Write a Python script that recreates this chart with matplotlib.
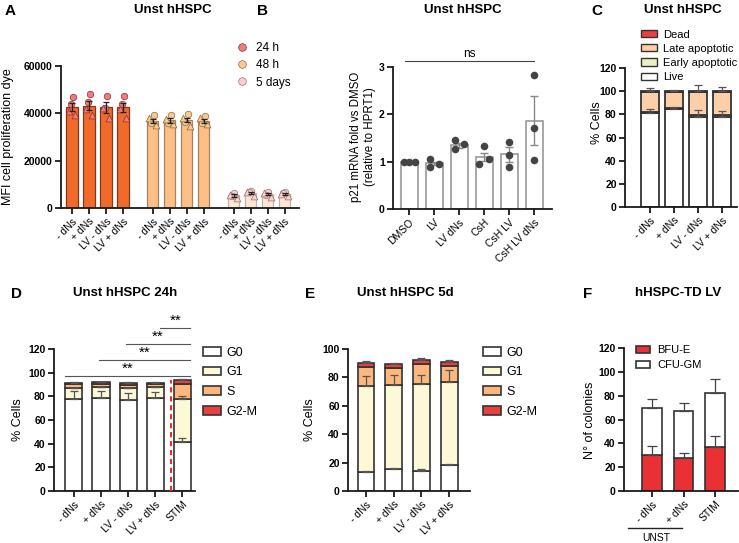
import numpy as np
import matplotlib
matplotlib.use("Agg")
import matplotlib.pyplot as plt
from matplotlib.patches import Patch
from matplotlib.lines import Line2D

plt.rcParams['font.family'] = ['Liberation Sans', 'DejaVu Sans']

# ---------------- DATA ----------------
# Panel A
a_conds = ['- dNs', '+ dNs', 'LV - dNs', 'LV + dNs']
a_times = ['24 h', '48 h', '5 days']
a_mean_24h = [42700, 43300, 42500, 42500]
a_sem_24h = [1700, 2000, 2300, 2000]
a_circ_24h = [[47100, 44000], [48300, 44800], [47300, 42300], [47300, 44000]]
a_tri_24h = [[41000, 39300], [42000, 39500], [42300, 38000], [41800, 38000]]
a_mean_48h = [36800, 37000, 37200, 36900]
a_sem_48h = [900, 900, 1000, 800]
a_circ_48h = [[39300, 36000], [39300, 36000], [39600, 36300], [39000, 36000]]
a_tri_48h = [[38000, 35000], [37800, 35300], [38000, 34800], [38200, 35300]]
a_mean_5d = [5300, 6400, 5800, 6000]
a_sem_5d = [450, 500, 450, 400]
a_circ_5d = [[6400, 5200], [7300, 6600], [6800, 5600], [6900, 6200]]
a_tri_5d = [[5600, 4300], [6900, 5000], [6200, 4700], [6000, 4900]]

# Panel B
b_conds = ['DMSO', 'LV', 'LV dNs', 'CsH', 'CsH LV', 'CsH LV dNs']
b_mean = [1.0, 0.96, 1.34, 1.10, 1.15, 1.86]
b_sem = [0.0, 0.04, 0.055, 0.09, 0.15, 0.52]
b_points = [[1.0, 1.0, 1.0], [1.05, 0.88, 0.95], [1.45, 1.26, 1.36],
            [1.32, 0.95, 1.06], [1.42, 1.14, 0.88], [2.83, 1.71, 1.03]]

# Panel C
c_conds = ['- dNs', '+ dNs', 'LV - dNs', 'LV + dNs']
c_live = [81.0, 84.5, 78.0, 78.0]
c_early = [1.2, 1.0, 1.3, 1.3]
c_late = [17.0, 14.0, 20.0, 20.0]
c_dead = [0.8, 0.5, 0.7, 0.7]
c_live_err = [3.8, 1.5, 5.5, 4.5]
c_top_err = [2.5, 0.7, 5.2, 3.2]

# Panel D
d_conds = ['- dNs', '+ dNs', 'LV - dNs', 'LV + dNs', 'STIM']
d_g0 = [77.5, 79.0, 76.6, 78.3, 41.7]
d_g1 = [9.3, 9.0, 10.2, 9.3, 36.0]
d_s = [3.3, 2.8, 3.2, 2.6, 12.7]
d_g2m = [1.4, 1.2, 1.5, 1.3, 3.4]
d_g0_err = [7.0, 5.5, 6.2, 5.4, 2.8]
d_g1_err = [0.0, 0.0, 0.0, 0.0, 2.6]
d_top_err = [0.5, 0.5, 0.5, 0.5, 0.8]
d_sig_labels = ['**', '**', '**', '**']

# Panel E
e_conds = ['- dNs', '+ dNs', 'LV - dNs', 'LV + dNs']
e_g0 = [13.4, 15.5, 14.0, 18.0]
e_g1 = [60.6, 58.9, 61.6, 59.0]
e_s = [13.6, 12.5, 13.6, 11.0]
e_g2m = [2.8, 2.3, 2.8, 2.8]
e_g0_err = [1.0, 1.0, 1.3, 0.8]
e_g1_err = [7.0, 7.6, 6.4, 8.0]
e_top_err = [1.1, 0.8, 1.4, 1.4]

# Panel F
f_conds = ['- dNs', '+ dNs', 'STIM']
f_bfu = [30.0, 27.5, 36.8]
f_cfu = [39.8, 39.7, 45.8]
f_bfu_err = [8.0, 4.8, 9.0]
f_tot_err = [7.2, 6.3, 11.2]

# ---------------- FIGURE ----------------
W, H = 739, 543
fig = plt.figure(figsize=(W / 100, H / 100), dpi=100)


def ax_px(l, t, r, b):
    return fig.add_axes([l / W, 1 - b / H, (r - l) / W, (b - t) / H])


def fy(y):
    return 1 - y / H


def style(ax, yticks, xpos, xlabels, fs=7.5):
    for s in ['top', 'right']:
        ax.spines[s].set_visible(False)
    for s in ['left', 'bottom']:
        ax.spines[s].set_linewidth(1.3)
        ax.spines[s].set_color('#1a1a1a')
    ax.tick_params(direction='out', length=4, width=1.3, color='#1a1a1a', pad=2)
    ax.set_yticks(yticks, labels=[str(t) for t in yticks], fontweight='bold', fontsize=7.5)
    ax.set_xticks(xpos, labels=xlabels, rotation=45, ha='right',
                  rotation_mode='anchor', fontsize=fs)


def ftext(x, y, s, **kw):
    kw.setdefault('ha', 'center')
    kw.setdefault('va', 'center')
    fig.text(x / W, fy(y), s, **kw)


# Panel labels and titles
for lab, x, y in [('A', 10, 11), ('B', 262, 11), ('C', 597, 11),
                  ('D', 17, 294), ('E', 310, 294), ('F', 588, 294)]:
    ftext(x, y, lab, fontsize=11, fontweight='bold')
for tit, x, y in [('Unst hHSPC', 173, 10), ('Unst hHSPC', 463, 10), ('Unst hHSPC', 683, 10),
                  ('Unst hHSPC 24h', 125, 293), ('Unst hHSPC 5d', 405, 293),
                  ('hHSPC-TD LV', 678, 293)]:
    ftext(x, y, tit, fontsize=9.5, fontweight='bold')

# ---------- Panel A ----------
axA = ax_px(61, 66, 299, 208)
bar_cols = ['#F26A2A', '#FDBF85', '#FDE6D4']
edge_cols = ['#7d3a1c', '#a08468', '#c4b0a4']
pt_cols = ['#EF7B7B', '#FCC890', '#F9CFCF']
pt_edges = ['#8a3030', '#8a6a40', '#9a7070']
means = [a_mean_24h, a_mean_48h, a_mean_5d]
sems = [a_sem_24h, a_sem_48h, a_sem_5d]
circs = [a_circ_24h, a_circ_48h, a_circ_5d]
tris = [a_tri_24h, a_tri_48h, a_tri_5d]
all_pos, all_lab = [], []
for g in range(3):
    pos = np.arange(4) + g * 4.75
    all_pos += list(pos)
    all_lab += a_conds
    axA.bar(pos, means[g], width=0.66, color=bar_cols[g], edgecolor=edge_cols[g],
            linewidth=0.9, zorder=2)
    for i, p in enumerate(pos):
        axA.scatter([p + 0.05, p - 0.08], circs[g][i], s=22, marker='o', color=pt_cols[g],
                    edgecolor=pt_edges[g], linewidth=0.5, zorder=3)
        axA.scatter([p - 0.2, p + 0.2], tris[g][i], s=24, marker='^', color=pt_cols[g],
                    edgecolor=pt_edges[g], linewidth=0.5, zorder=3)
    axA.errorbar(pos, means[g], yerr=sems[g], fmt='none', ecolor='#222', elinewidth=0.9,
                 capsize=2.5, capthick=0.9, zorder=4)
axA.set_xlim(-0.65, 13.35)
axA.set_ylim(0, 60000)
style(axA, [0, 20000, 40000, 60000], all_pos, all_lab)
ftext(8, 137, 'MFI cell proliferation dye', rotation=90, fontsize=9)
handles = [Line2D([], [], marker='o', ls='none', markersize=5.5, markerfacecolor=pt_cols[g],
                  markeredgecolor=pt_edges[g], markeredgewidth=0.5) for g in range(3)]
fig.legend(handles, a_times, loc='upper left', bbox_to_anchor=(236 / W, fy(42)),
           frameon=False, fontsize=8.5, handletextpad=0.7, labelspacing=0.45,
           borderpad=0, borderaxespad=0, handlelength=1.0)

# ---------- Panel B ----------
axB = ax_px(393, 66.7, 552, 209)
bpos = np.arange(6)
axB.bar(bpos, b_mean, width=0.68, color='white', edgecolor='#9a9a9a', linewidth=1.2, zorder=2)
axB.errorbar(bpos, b_mean, yerr=b_sem, fmt='none', ecolor='#888', elinewidth=1,
             capsize=3, capthick=1, zorder=3)
b_offsets = [[-0.22, 0, 0.22], [-0.15, -0.15, 0.2], [-0.15, -0.15, 0.2],
             [0, -0.2, 0.2], [0, 0, 0], [0, 0, 0]]
for i in range(6):
    axB.scatter(bpos[i] + np.array(b_offsets[i]), b_points[i], s=30, color='#444444',
                zorder=4, linewidth=0)
axB.set_xlim(-0.64, 5.72)
axB.set_ylim(0, 3)
style(axB, [0, 1, 2, 3], bpos, b_conds)
axB.plot([-0.15, 5.0], [3.12, 3.12], color='#444', lw=0.8, clip_on=False)
axB.text(2.42, 3.27, 'ns', ha='center', va='center', fontsize=8.5, clip_on=False)
ftext(363, 137, 'p21 mRNA fold vs DMSO\n(relative to HPRT1)', rotation=90, fontsize=8.3,
      linespacing=1.15)

# ---------- Panel C ----------
axC = ax_px(625, 68, 737, 207)
cpos = np.arange(4)
c_cols = ['white', '#E9F0C4', '#FDCFA8', '#E8403F']
c_names = ['Live', 'Early apoptotic', 'Late apoptotic', 'Dead']
bottom = np.zeros(4)
for vals, col in zip([c_live, c_early, c_late, c_dead], c_cols):
    axC.bar(cpos, vals, bottom=bottom, width=0.78, color=col, edgecolor='#333',
            linewidth=1.3, zorder=2)
    bottom = bottom + np.array(vals)
z = np.zeros(4)
axC.errorbar(cpos, c_live, yerr=[z, c_live_err], fmt='none', ecolor='#555', elinewidth=0.9,
             capsize=3, capthick=0.9, zorder=3)
axC.errorbar(cpos, bottom, yerr=[z, c_top_err], fmt='none', ecolor='#555', elinewidth=0.9,
             capsize=3, capthick=0.9, zorder=3)
axC.set_xlim(-1.04, 3.62)
axC.set_ylim(0, 120)
style(axC, [0, 20, 40, 60, 80, 100, 120], cpos, c_conds)
ftext(597, 123, '% Cells', rotation=90, fontsize=9)
ch = [Patch(facecolor=c, edgecolor='#333', linewidth=1.0) for c in c_cols[::-1]]
fig.legend(ch, c_names[::-1], loc='upper left', bbox_to_anchor=(641 / W, fy(29.5)),
           frameon=False, fontsize=8, handletextpad=0.6, labelspacing=0.38,
           borderpad=0, borderaxespad=0, handlelength=1.4, handleheight=0.6)

# ---------- Panel D ----------
cc_cols = ['white', '#FCF8D8', '#FBB77C', '#E8403F']
cc_names = ['G0', 'G1', 'S', 'G2-M']
axD = ax_px(54, 349, 195, 491)
dpos = np.arange(5)
bottom = np.zeros(5)
tops = []
for vals, col in zip([d_g0, d_g1, d_s, d_g2m], cc_cols):
    axD.bar(dpos, vals, bottom=bottom, width=0.63, color=col, edgecolor='#333',
            linewidth=1.2, zorder=2)
    bottom = bottom + np.array(vals)
    tops.append(bottom.copy())
z = np.zeros(5)
for t, e in zip([tops[0], tops[1], tops[3]], [d_g0_err, d_g1_err, d_top_err]):
    axD.errorbar(dpos, t, yerr=[z, e], fmt='none', ecolor='#555', elinewidth=0.9,
                 capsize=3, capthick=0.9, zorder=3)
axD.vlines(3.6, 0, 94, colors='#E8302F', linestyles=(0, (2.5, 1.8)), linewidth=1.5, zorder=4)
axD.set_xlim(-0.74, 4.48)
axD.set_ylim(0, 120)
style(axD, [0, 20, 40, 60, 80, 100, 120], dpos, d_conds)
sig_starts = [-0.33, 0.93, 1.93, 3.2]
sig_y = [97.5, 111, 124.5, 138]
for xs, yv, lab in zip(sig_starts, sig_y, d_sig_labels):
    axD.plot([xs, 4.3], [yv, yv], color='#555', lw=0.8, clip_on=False)
    axD.text((xs + 4.3) / 2, yv + 5.5, lab, ha='center', va='center', fontsize=11,
             clip_on=False)
ftext(18, 420, '% Cells', rotation=90, fontsize=9)
dh = [Patch(facecolor=c, edgecolor='#333', linewidth=1.2) for c in cc_cols]
fig.legend(dh, cc_names, loc='upper left', bbox_to_anchor=(203 / W, fy(346.5)),
           frameon=False, fontsize=9, handletextpad=0.5, labelspacing=0.62,
           borderpad=0, borderaxespad=0, handlelength=1.4, handleheight=0.7)

# ---------- Panel E ----------
axE = ax_px(348, 349, 470, 491)
epos = np.arange(4)
bottom = np.zeros(4)
tops = []
for vals, col in zip([e_g0, e_g1, e_s, e_g2m], cc_cols):
    axE.bar(epos, vals, bottom=bottom, width=0.61, color=col, edgecolor='#333',
            linewidth=1.2, zorder=2)
    bottom = bottom + np.array(vals)
    tops.append(bottom.copy())
z = np.zeros(4)
for t, e in zip([tops[0], tops[1], tops[3]], [e_g0_err, e_g1_err, e_top_err]):
    axE.errorbar(epos, t, yerr=[z, e], fmt='none', ecolor='#555', elinewidth=0.9,
                 capsize=3, capthick=0.9, zorder=3)
axE.set_xlim(-0.65, 3.75)
axE.set_ylim(0, 100)
style(axE, [0, 20, 40, 60, 80, 100], epos, e_conds)
ftext(310, 420, '% Cells', rotation=90, fontsize=9)
fig.legend(dh, cc_names, loc='upper left', bbox_to_anchor=(483 / W, fy(346.5)),
           frameon=False, fontsize=9, handletextpad=0.5, labelspacing=0.62,
           borderpad=0, borderaxespad=0, handlelength=1.4, handleheight=0.7)

# ---------- Panel F ----------
axF = ax_px(624, 348, 738, 491)
fpos = np.arange(3)
axF.bar(fpos, f_bfu, width=0.63, color='#E83035', edgecolor='#333', linewidth=1.2, zorder=2)
axF.bar(fpos, f_cfu, bottom=f_bfu, width=0.63, color='white', edgecolor='#333',
        linewidth=1.2, zorder=2)
z = np.zeros(3)
ftot = np.array(f_bfu) + np.array(f_cfu)
axF.errorbar(fpos, f_bfu, yerr=[z, f_bfu_err], fmt='none', ecolor='#444', elinewidth=0.9,
             capsize=3.5, capthick=0.9, zorder=3)
axF.errorbar(fpos, ftot, yerr=[z, f_tot_err], fmt='none', ecolor='#444', elinewidth=0.9,
             capsize=3.5, capthick=0.9, zorder=3)
axF.set_xlim(-0.89, 2.73)
axF.set_ylim(0, 120)
style(axF, [0, 20, 40, 60, 80, 100, 120], fpos, f_conds)
ftext(590, 420, 'N° of colonies', rotation=90, fontsize=9)
fh = [Patch(facecolor=c, edgecolor='#333', linewidth=1.2) for c in ['#E83035', 'white']]
fig.legend(fh, ['BFU-E', 'CFU-GM'], loc='upper left', bbox_to_anchor=(636 / W, fy(345)),
           frameon=False, fontsize=8, handletextpad=0.6, labelspacing=0.45,
           borderpad=0, borderaxespad=0, handlelength=1.3, handleheight=0.6)
fig.add_artist(Line2D([628 / W, 682 / W], [fy(528), fy(528)], color='#222', lw=1.0))
ftext(656, 538, 'UNST', fontsize=7.5)

fig.savefig('out.png', dpi=100)
